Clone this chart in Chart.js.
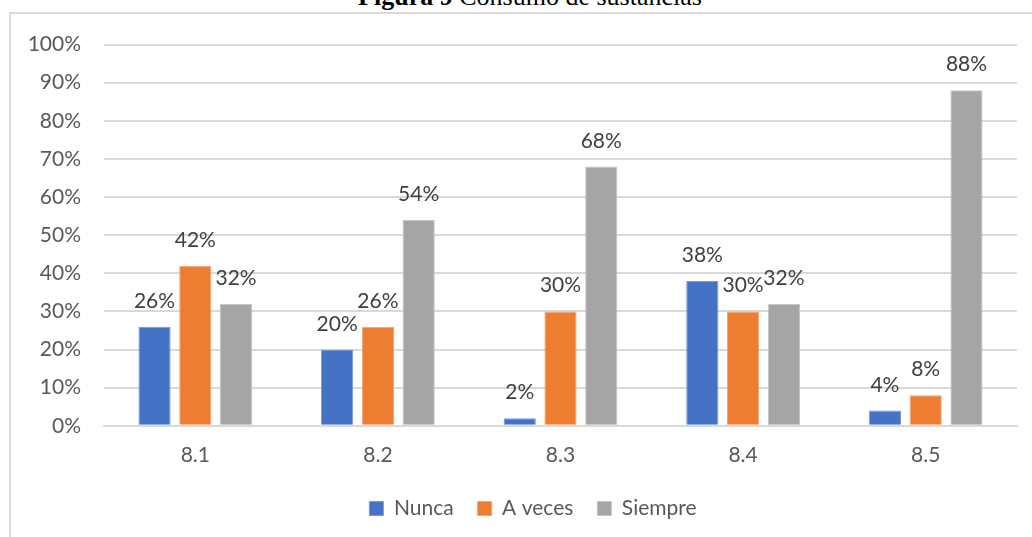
<!DOCTYPE html>
<html>
<head>
<meta charset="utf-8">
<script src="https://cdn.jsdelivr.net/npm/chart.js@4.4.1/dist/chart.umd.min.js"></script>
<style>
  html, body { margin: 0; padding: 0; background: #fff; overflow: hidden; }
  body { width: 1032px; height: 537px; position: relative; }
  #title {
    position: absolute; left: 0; width: 1060px; top: -18px; text-align: center;
    font-family: "Liberation Serif", "Times New Roman", serif; font-size: 26px;
    line-height: 30px; color: #000; white-space: nowrap;
  }
  #frame {
    position: absolute; left: 9px; top: 12px; width: 1040px; height: 540px;
    border-left: 2px solid #d9d9d9; border-top: 2px solid #d9d9d9;
  }
  #wrap { position: absolute; left: 11px; top: 9px; width: 1044px; height: 528px; }
</style>
</head>
<body>
<div id="title"><b>Figura 9</b> Consumo de sustancias</div>
<div id="frame"></div>
<div id="wrap"><canvas id="c"></canvas></div>
<script>
// Survey items and answer shares (percent)
const categories = ['8.1', '8.2', '8.3', '8.4', '8.5'];
const nunca   = [26, 20, 2, 38, 4];
const aVeces  = [42, 26, 30, 30, 8];
const siempre = [32, 54, 68, 32, 88];
const seriesNames = ['Nunca', 'A veces', 'Siempre'];
const yTicks = [0, 10, 20, 30, 40, 50, 60, 70, 80, 90, 100];

const FONT = 'Lato';
const TEXT = '#595959';

// Writes each bar's value above it
const valueLabels = {
  id: 'valueLabels',
  afterDatasetsDraw(chart) {
    const ctx = chart.ctx;
    ctx.save();
    ctx.font = '21px ' + FONT;
    ctx.fillStyle = '#404040';
    ctx.textAlign = 'center';
    ctx.textBaseline = 'alphabetic';
    chart.data.datasets.forEach((ds, i) => {
      chart.getDatasetMeta(i).data.forEach((bar, j) => {
        ctx.fillText(ds.data[j] + '%', bar.x, bar.y - 19);
      });
    });
    ctx.restore();
  }
};

new Chart(document.getElementById('c'), {
  type: 'bar',
  data: {
    labels: categories,
    datasets: [
      { label: seriesNames[0], data: nunca,   backgroundColor: '#4472C4', borderColor: '#7a9bd8', borderWidth: 1 },
      { label: seriesNames[1], data: aVeces,  backgroundColor: '#ED7D31', borderColor: '#f3a470', borderWidth: 1 },
      { label: seriesNames[2], data: siempre, backgroundColor: '#A5A5A5', borderColor: '#c4c4c4', borderWidth: 1 }
    ]
  },
  options: {
    responsive: true,
    maintainAspectRatio: false,
    animation: false,
    layout: { padding: { left: 0, right: 0, top: 0, bottom: 8 } },
    datasets: { bar: { categoryPercentage: 0.67, barPercentage: 0.79 } },
    scales: {
      x: {
        afterFit(scale) { scale.height -= 11; },
        grid: { display: false, drawTicks: false },
        border: { display: true, color: '#d9d9d9', width: 2 },
        ticks: { color: TEXT, font: { family: FONT, size: 21 }, padding: 17 }
      },
      y: {
        min: 0, max: 100,
        afterFit(scale) { scale.width = 93; },
        afterBuildTicks(scale) { scale.ticks = yTicks.map(v => ({ value: v })); },
        grid: { color: '#d9d9d9', lineWidth: 2, drawTicks: false },
        border: { display: false },
        ticks: {
          color: TEXT, font: { family: FONT, size: 21 }, padding: 23,
          callback: v => v + '%'
        }
      },
      // empty right margin of the plot
      yRight: {
        position: 'right',
        afterFit(scale) { scale.width = 38; },
        grid: { display: false, drawTicks: false },
        border: { display: false },
        ticks: { display: false }
      }
    },
    plugins: {
      legend: {
        position: 'bottom',
        labels: {
          color: TEXT, font: { family: FONT, size: 21 },
          boxWidth: 14, boxHeight: 14, padding: 24
        }
      },
      tooltip: { enabled: false }
    }
  },
  plugins: [valueLabels]
});
</script>
</body>
</html>
